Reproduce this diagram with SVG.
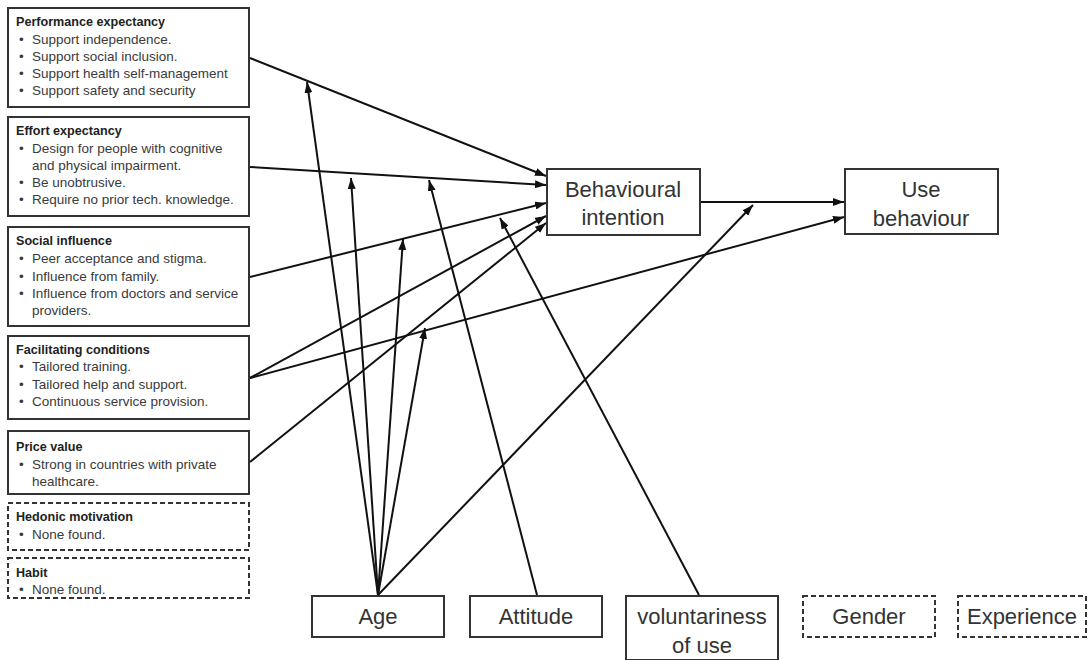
<svg xmlns="http://www.w3.org/2000/svg" width="1090" height="660" viewBox="0 0 1090 660">
<defs>
<marker id="ah" markerWidth="11" markerHeight="8" refX="11" refY="4" orient="auto" markerUnits="userSpaceOnUse">
<path d="M0,0 L11,4 L0,8 z" fill="#111"/>
</marker>
<style>
.box{fill:#fff;stroke:#333;stroke-width:2}
.dash{fill:#fff;stroke:#333;stroke-width:2;stroke-dasharray:5,3}
.t{font-family:"Liberation Sans",Arial,sans-serif;font-size:13.5px;fill:#3a3a3a}
.h{font-family:"Liberation Sans",Arial,sans-serif;font-size:12.6px;font-weight:bold;fill:#222}
.b{font-family:"Liberation Sans",Arial,sans-serif;font-size:22px;fill:#333;text-anchor:middle}
.c{stroke:#111;stroke-width:2;fill:none;marker-end:url(#ah)}
</style>
</defs>
<rect width="1090" height="660" fill="#fff"/>

<g id="performance">
<rect class="box" x="8" y="8" width="241" height="99"/>
<text class="h" x="16" y="26">Performance expectancy</text>
<text class="t" x="19" y="44">•</text><text class="t" x="32" y="44">Support independence.</text>
<text class="t" x="19" y="61">•</text><text class="t" x="32" y="61">Support social inclusion.</text>
<text class="t" x="19" y="78">•</text><text class="t" x="32" y="78">Support health self-management</text>
<text class="t" x="19" y="95">•</text><text class="t" x="32" y="95">Support safety and security</text>
</g>

<g id="effort">
<rect class="box" x="8" y="117" width="241" height="99"/>
<text class="h" x="16" y="135">Effort expectancy</text>
<text class="t" x="19" y="153">•</text><text class="t" x="32" y="153">Design for people with cognitive</text>
<text class="t" x="32" y="170">and physical impairment.</text>
<text class="t" x="19" y="187">•</text><text class="t" x="32" y="187">Be unobtrusive.</text>
<text class="t" x="19" y="204">•</text><text class="t" x="32" y="204">Require no prior tech. knowledge.</text>
</g>

<g id="social">
<rect class="box" x="8" y="227" width="241" height="99"/>
<text class="h" x="16" y="245">Social influence</text>
<text class="t" x="19" y="263">•</text><text class="t" x="32" y="263">Peer acceptance and stigma.</text>
<text class="t" x="19" y="281">•</text><text class="t" x="32" y="281">Influence from family.</text>
<text class="t" x="19" y="298">•</text><text class="t" x="32" y="298">Influence from doctors and service</text>
<text class="t" x="32" y="315">providers.</text>
</g>

<g id="facilitating">
<rect class="box" x="8" y="336" width="241" height="83"/>
<text class="h" x="16" y="354">Facilitating conditions</text>
<text class="t" x="19" y="371">•</text><text class="t" x="32" y="371">Tailored training.</text>
<text class="t" x="19" y="389">•</text><text class="t" x="32" y="389">Tailored help and support.</text>
<text class="t" x="19" y="406">•</text><text class="t" x="32" y="406">Continuous service provision.</text>
</g>

<g id="price">
<rect class="box" x="8" y="431" width="241" height="63"/>
<text class="h" x="16" y="451">Price value</text>
<text class="t" x="19" y="469">•</text><text class="t" x="32" y="469">Strong in countries with private</text>
<text class="t" x="32" y="486">healthcare.</text>
</g>

<g id="hedonic">
<rect class="dash" x="8" y="503" width="241" height="47"/>
<text class="h" x="16" y="521">Hedonic motivation</text>
<text class="t" x="19" y="539">•</text><text class="t" x="32" y="539">None found.</text>
</g>

<g id="habit">
<rect class="dash" x="8" y="558" width="241" height="40"/>
<text class="h" x="16" y="577">Habit</text>
<text class="t" x="19" y="594">•</text><text class="t" x="32" y="594">None found.</text>
</g>

<g id="intention">
<rect class="box" x="547" y="169" width="153" height="66"/>
<text class="b" x="623" y="197">Behavioural</text>
<text class="b" x="623" y="225">intention</text>
</g>

<g id="use">
<rect class="box" x="845" y="169" width="153" height="65"/>
<text class="b" x="921" y="197">Use</text>
<text class="b" x="921" y="226">behaviour</text>
</g>

<g id="age">
<rect class="box" x="312" y="596" width="132" height="41"/>
<text class="b" x="378" y="624">Age</text>
</g>

<g id="attitude">
<rect class="box" x="470" y="596" width="132" height="41"/>
<text class="b" x="536" y="624">Attitude</text>
</g>

<g id="voluntariness">
<rect class="box" x="626" y="596" width="152" height="64"/>
<text class="b" x="702" y="624">voluntariness</text>
<text class="b" x="702" y="653">of use</text>
</g>

<g id="gender">
<rect class="dash" x="803" y="596" width="132" height="41"/>
<text class="b" x="869" y="624">Gender</text>
</g>

<g id="experience">
<rect class="dash" x="958" y="596" width="128" height="41"/>
<text class="b" x="1022" y="624">Experience</text>
</g>

<g id="connectors">
<line class="c" x1="250" y1="58" x2="546" y2="176"/>
<line class="c" x1="250" y1="167" x2="546" y2="185"/>
<line class="c" x1="250" y1="277" x2="546" y2="203"/>
<line class="c" x1="250" y1="378" x2="546" y2="216"/>
<line class="c" x1="250" y1="462" x2="546" y2="223"/>
<line class="c" x1="250" y1="378" x2="844" y2="217"/>
<line class="c" x1="701" y1="202" x2="844" y2="202"/>
<line class="c" x1="378" y1="595" x2="307" y2="82"/>
<line class="c" x1="378" y1="595" x2="351" y2="178"/>
<line class="c" x1="378" y1="595" x2="403" y2="239"/>
<line class="c" x1="378" y1="595" x2="425" y2="328"/>
<line class="c" x1="378" y1="595" x2="753" y2="205"/>
<line class="c" x1="537" y1="595" x2="429" y2="180"/>
<line class="c" x1="699" y1="595" x2="500" y2="218"/>
</g>
</svg>
